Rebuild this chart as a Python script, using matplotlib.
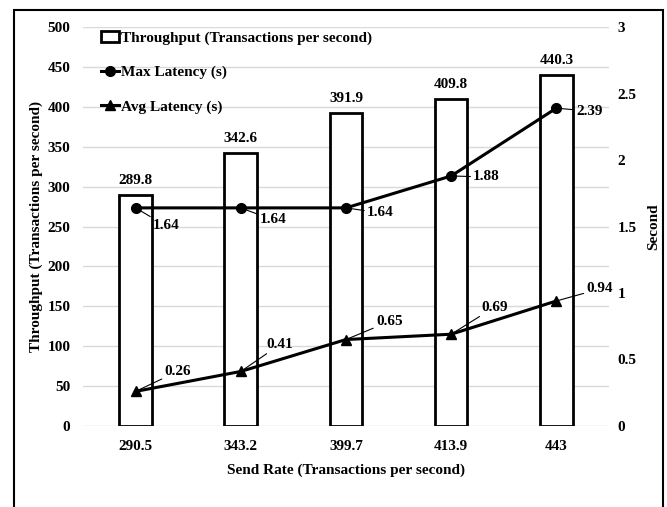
import numpy as np
import matplotlib.pyplot as plt
from matplotlib.patches import Rectangle

# data
send_rate = ['290.5', '343.2', '399.7', '413.9', '443']
throughput = [289.8, 342.6, 391.9, 409.8, 440.3]
max_latency = [1.64, 1.64, 1.64, 1.88, 2.39]
avg_latency = [0.26, 0.41, 0.65, 0.69, 0.94]

plt.rcParams['font.family'] = ['Liberation Serif', 'DejaVu Serif']
plt.rcParams['font.weight'] = 'bold'
plt.rcParams['font.size'] = 11

fig = plt.figure(figsize=(6.67, 5.07), dpi=100)
ax = fig.add_axes([0.1244, 0.1598, 0.7886, 0.7869])
ax2 = ax.twinx()

x = np.arange(len(send_rate))

# bars
bars = ax.bar(x, throughput, width=0.31, facecolor='white', edgecolor='black',
              linewidth=2, label='Throughput (Transactions per second)', zorder=2)
for xi, v in zip(x, throughput):
    ax.annotate(f'{v}', (xi, v), xytext=(0, 8), textcoords='offset pixels',
                ha='center', va='bottom', fontweight='bold')

# lines on second axis
l1, = ax2.plot(x, max_latency, color='black', linewidth=2.2, marker='o',
               markersize=7, label='Max Latency (s)')
l2, = ax2.plot(x, avg_latency, color='black', linewidth=2.2, marker='^',
               markersize=7, label='Avg Latency (s)')

# labels with leader lines
max_offsets = [(17, -18), (19, -12), (21, -5), (22, -1), (20, -3)]
avg_offsets = [(29, 20), (26, 27), (30, 18), (30, 27), (30, 12)]
for xi, v, off in zip(x, max_latency, max_offsets):
    ax2.annotate(f'{v:.2f}', (xi, v), xytext=off, textcoords='offset pixels',
                 ha='left', va='center', fontweight='bold',
                 arrowprops=dict(arrowstyle='-', color='black', lw=0.8,
                                 shrinkA=0, shrinkB=0))
for xi, v, off in zip(x, avg_latency, avg_offsets):
    ax2.annotate(f'{v:.2f}', (xi, v), xytext=off, textcoords='offset pixels',
                 ha='left', va='center', fontweight='bold',
                 arrowprops=dict(arrowstyle='-', color='black', lw=0.8,
                                 shrinkA=0, shrinkB=0))

ax.set_xlim(-0.5, 4.5)
ax.set_ylim(0, 500)
ax.set_yticks(np.arange(0, 501, 50))
ax2.set_ylim(0, 3)
ax2.set_yticks([0, 0.5, 1, 1.5, 2, 2.5, 3])
ax2.set_yticklabels(['0', '0.5', '1', '1.5', '2', '2.5', '3'])
ax.set_xticks(x)
ax.set_xticklabels(send_rate)

ax.grid(axis='y', color='#d9d9d9', linewidth=1, zorder=0)
ax.set_axisbelow(True)
for a in (ax, ax2):
    for s in a.spines.values():
        s.set_visible(False)
    a.tick_params(length=0)
ax.tick_params(axis='y', pad=9)
ax.tick_params(axis='x', pad=10)
ax2.tick_params(axis='y', pad=6)

ax.set_xlabel('Send Rate (Transactions per second)', fontweight='bold', labelpad=8)
ax.set_ylabel('Throughput (Transactions per second)', fontweight='bold', labelpad=3)
ax2.set_ylabel('Second', fontweight='bold', labelpad=8)

ax.legend(handles=[bars, l1, l2], loc='upper left', bbox_to_anchor=(0.034, 0.99),
          frameon=False, borderpad=0, borderaxespad=0, labelspacing=1.35,
          handlelength=1.2, handletextpad=0.1,
          prop={'weight': 'bold', 'size': 11})

# outer frame
fig.patches.append(Rectangle((14 / 667, -0.01), 649 / 667, 1 - 10 / 507 + 0.01,
                             transform=fig.transFigure, fill=False,
                             edgecolor='black', linewidth=1.5))

fig.savefig('out.png', dpi=100)
